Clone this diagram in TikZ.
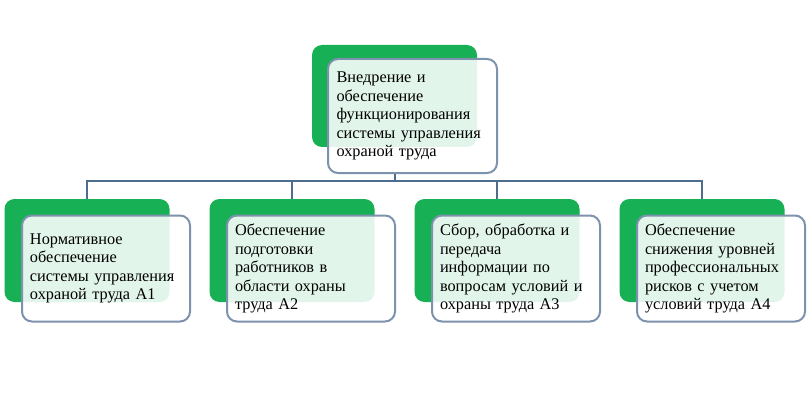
\documentclass[tikz,border=0pt]{standalone}
\usepackage{fontspec}
\setmainfont{Liberation Serif}
\definecolor{grn}{HTML}{18B055}
\definecolor{brd}{HTML}{7D92AC}
\definecolor{conn}{HTML}{4E6C8C}
\begin{document}
\begin{tikzpicture}[x=1pt,y=-1pt,
  greenbox/.style={fill=grn, draw=none, rounded corners=10pt, minimum width=165pt, minimum height=103pt},
  textbox/.style={draw=brd, line width=2pt, fill=white, fill opacity=0.88, text opacity=1,
    rounded corners=10pt, minimum width=168pt, minimum height=106pt, inner xsep=8pt,
    text width=152pt, align=left, font=\fontsize{16.3}{18.5}\selectfont},
  connline/.style={draw=conn, line width=2pt}]
\useasboundingbox (0,0) rectangle (807,404);
\fill[white] (0,0) rectangle (807,404);
\coordinate (bus) at (394.5,181);
% green back panels
\node[greenbox, minimum height=102pt] (tg) at (394.5,96) {};
\node[greenbox] (g1) at (87,250.5) {};
\node[greenbox] (g2) at (292,250.5) {};
\node[greenbox] (g3) at (497,250.5) {};
\node[greenbox] (g4) at (702,250.5) {};
% connectors
\draw[connline] (g1.north) |- (g4.north |- bus) -- (g4.north);
\draw[connline] (g2.north) -- (g2.north |- bus);
\draw[connline] (g3.north) -- (g3.north |- bus);
% text boxes
\node[textbox, minimum width=169pt, minimum height=114pt] (tw) at (412.5,116)
  {Внедрение и\\обеспечение\\функционирования\\системы управления\\охраной труда};
\node[textbox] (w1) at (106,268.5)
  {Нормативное\\обеспечение\\системы управления\\охраной труда А1};
\node[textbox] (w2) at (311,268.5)
  {Обеспечение\\подготовки\\работников в\\области охраны\\труда А2};
\node[textbox] (w3) at (516,268.5)
  {Сбор, обработка и\\передача\\информации по\\вопросам условий и\\охраны труда А3};
\node[textbox] (w4) at (721,268.5)
  {Обеспечение\\снижения уровней\\профессиональных\\рисков с учетом\\условий труда А4};
\draw[connline] (tg.south |- tw.south) -- (bus);
\end{tikzpicture}
\end{document}
